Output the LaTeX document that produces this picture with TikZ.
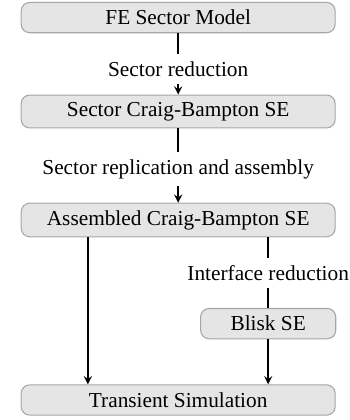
\documentclass[tikz,border=0pt]{standalone}
\usepackage{fontspec}
\setmainfont{Liberation Serif}
\usetikzlibrary{arrows}
\begin{document}
\begin{tikzpicture}[>=stealth,
	block/.style={draw=gray!70,fill=gray!20,rectangle,rounded corners=4pt,line width=0.5pt,minimum height=0.5cm},
	conn/.style={line width=0.7pt}]

	\useasboundingbox (0,0) rectangle (5.775,6.93);

	% dobozok
	\node[block, minimum width=5.18cm] (FE) at (2.94,6.64) {FE Sector Model};
	\node[block, minimum width=5.18cm] (SCB) at (2.94,5.09) {Sector Craig-Bampton SE};
	\node[block, minimum width=5.18cm] (ACB) at (2.94,3.30) {Assembled Craig-Bampton SE};
	\node[block, minimum width=2.23cm] (Blisk) at (4.425,1.59) {Blisk SE};
	\node[block, minimum width=5.18cm] (Trans) at (2.94,0.33) {Transient Simulation};

	% feliratok
	\node (secred) at (2.94,5.79) {Sector reduction};
	\node (secrep) at (2.94,4.14) {Sector replication and assembly};
	\node (intred) at (4.425,2.43) {Interface reduction};
	\coordinate (bal) at (1.45,0);

	% nyilak
	\draw[conn] (FE) -- (secred);
	\draw[conn,->] (secred) -- (SCB);
	\draw[conn] (SCB) -- (secrep);
	\draw[conn,->] (secrep) -- (ACB);
	\draw[conn,->] (ACB.south -| bal) -- (Trans.north -| bal);
	\draw[conn] (ACB.south -| intred) -- (intred);
	\draw[conn] (intred) -- (Blisk);
	\draw[conn,->] (Blisk) -- (Trans.north -| Blisk);

\end{tikzpicture}
\end{document}
